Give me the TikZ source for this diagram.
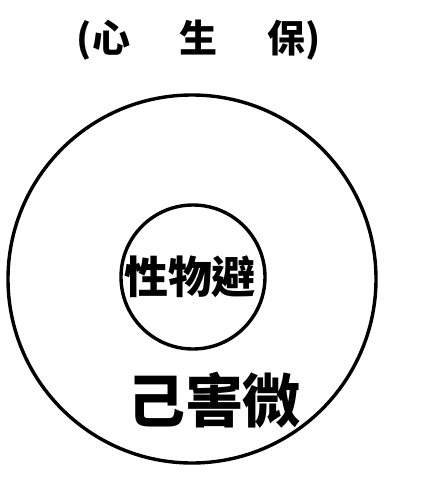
\documentclass[tikz,border=0pt]{standalone}
\usepackage{fontspec}
\newfontfamily\cjk{Noto Sans CJK TC}
\tikzset{ring/.style={line width=3.4pt}}

\begin{document}
\begin{tikzpicture}[x=1pt,y=-1pt]
\useasboundingbox (0,0) rectangle (431,496);
\node (title) at (199,40) {\cjk\bfseries\fontsize{38}{40}\selectfont (心\hspace{50pt}生\hspace{50pt}保)};
\draw[ring] (192,279) circle (184);
\draw[ring] (193,277) circle (72);
\node (inner) at (190,277) {\cjk\bfseries\fontsize{44}{46}\selectfont 性物避};
\node (outer) at (214,400) {\cjk\bfseries\fontsize{58}{60}\selectfont 己害微};
\end{tikzpicture}
\end{document}
